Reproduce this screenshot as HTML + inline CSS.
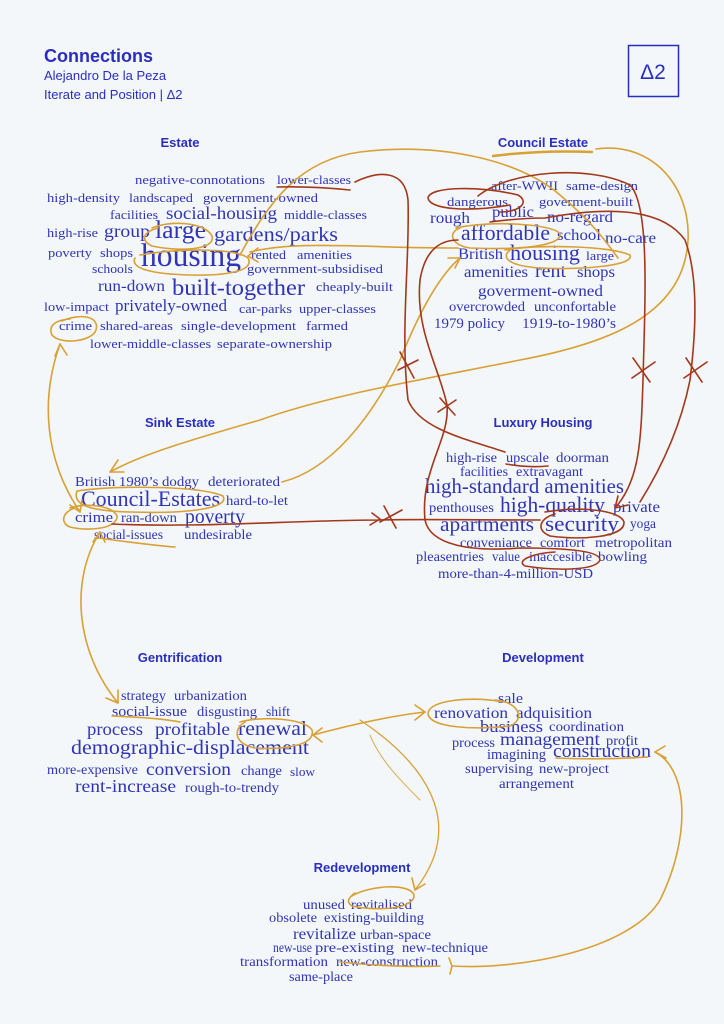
<!DOCTYPE html>
<html><head><meta charset="utf-8"><style>
html,body{margin:0;padding:0;background:#f3f7f9;}
svg{display:block}
.w{font-family:"Liberation Serif",serif;fill:#3034b5;}
.h{font-family:"Liberation Sans",sans-serif;font-weight:bold;fill:#2a2ec0;font-size:13px;text-anchor:middle}
.o{fill:none;stroke:#d9a035;stroke-width:1.6;stroke-linecap:round}
.b{fill:none;stroke:#a3381c;stroke-width:1.6;stroke-linecap:round}
</style></head><body>
<svg width="724" height="1024" viewBox="0 0 724 1024" xmlns="http://www.w3.org/2000/svg">
<rect width="724" height="1024" fill="#f3f7f9"/>
<g font-family="Liberation Sans,sans-serif" fill="#2a2ec0">
<text x="44" y="62" font-size="18" font-weight="bold">Connections</text>
<text x="44" y="80" font-size="13">Alejandro De la Peza</text>
<text x="44" y="99" font-size="13">Iterate and Position | Δ2</text>
<text x="653" y="79" font-size="21" text-anchor="middle">Δ2</text>
</g>
<rect x="628.5" y="45.5" width="50" height="51" fill="none" stroke="#2a2ec0" stroke-width="1.5"/>
<text class="h" x="180" y="147">Estate</text>
<text class="h" x="543" y="147">Council Estate</text>
<text class="h" x="180" y="427">Sink Estate</text>
<text class="h" x="543" y="427">Luxury Housing</text>
<text class="h" x="180" y="662">Gentrification</text>
<text class="h" x="543" y="662">Development</text>
<text class="h" x="362" y="872">Redevelopment</text>

<g class="w" lengthAdjust="spacingAndGlyphs">
<!-- Estate -->
<text x="135" y="184" font-size="13" textLength="130" lengthAdjust="spacingAndGlyphs">negative-connotations</text>
<text x="277" y="184" font-size="13" textLength="74" lengthAdjust="spacingAndGlyphs">lower-classes</text>
<text x="47" y="202" font-size="13" textLength="73" lengthAdjust="spacingAndGlyphs">high-density</text>
<text x="129" y="202" font-size="13" textLength="64" lengthAdjust="spacingAndGlyphs">landscaped</text>
<text x="203" y="202" font-size="13" textLength="115" lengthAdjust="spacingAndGlyphs">government-owned</text>
<text x="110" y="219" font-size="13" textLength="48" lengthAdjust="spacingAndGlyphs">facilities</text>
<text x="166" y="219" font-size="18" textLength="111" lengthAdjust="spacingAndGlyphs">social-housing</text>
<text x="284" y="219" font-size="13" textLength="83" lengthAdjust="spacingAndGlyphs">middle-classes</text>
<text x="47" y="237" font-size="13" textLength="51" lengthAdjust="spacingAndGlyphs">high-rise</text>
<text x="104" y="237" font-size="18" textLength="46" lengthAdjust="spacingAndGlyphs">group</text>
<text x="155" y="238" font-size="25" textLength="51" lengthAdjust="spacingAndGlyphs">large</text>
<text x="214" y="241" font-size="20" textLength="124" lengthAdjust="spacingAndGlyphs">gardens/parks</text>
<text x="48" y="257" font-size="13" textLength="44" lengthAdjust="spacingAndGlyphs">poverty</text>
<text x="100" y="257" font-size="13" textLength="33" lengthAdjust="spacingAndGlyphs">shops</text>
<text x="141" y="266" font-size="33" textLength="100" lengthAdjust="spacingAndGlyphs">housing</text>
<text x="251" y="259" font-size="13" textLength="35" lengthAdjust="spacingAndGlyphs">rented</text>
<text x="297" y="259" font-size="13" textLength="55" lengthAdjust="spacingAndGlyphs">amenities</text>
<text x="92" y="273" font-size="13" textLength="41" lengthAdjust="spacingAndGlyphs">schools</text>
<text x="247" y="273" font-size="13" textLength="136" lengthAdjust="spacingAndGlyphs">government-subsidised</text>
<text x="98" y="291" font-size="16" textLength="67" lengthAdjust="spacingAndGlyphs">run-down</text>
<text x="172" y="295" font-size="23" textLength="133" lengthAdjust="spacingAndGlyphs">built-together</text>
<text x="316" y="291" font-size="13" textLength="77" lengthAdjust="spacingAndGlyphs">cheaply-built</text>
<text x="44" y="311" font-size="13" textLength="65" lengthAdjust="spacingAndGlyphs">low-impact</text>
<text x="115" y="311" font-size="17" textLength="112" lengthAdjust="spacingAndGlyphs">privately-owned</text>
<text x="239" y="313" font-size="13" textLength="53" lengthAdjust="spacingAndGlyphs">car-parks</text>
<text x="299" y="313" font-size="13" textLength="77" lengthAdjust="spacingAndGlyphs">upper-classes</text>
<text x="59" y="330" font-size="13" textLength="33" lengthAdjust="spacingAndGlyphs">crime</text>
<text x="100" y="330" font-size="13" textLength="73" lengthAdjust="spacingAndGlyphs">shared-areas</text>
<text x="181" y="330" font-size="13" textLength="115" lengthAdjust="spacingAndGlyphs">single-development</text>
<text x="306" y="330" font-size="13" textLength="42" lengthAdjust="spacingAndGlyphs">farmed</text>
<text x="90" y="348" font-size="13" textLength="121" lengthAdjust="spacingAndGlyphs">lower-middle-classes</text>
<text x="217" y="348" font-size="13" textLength="115" lengthAdjust="spacingAndGlyphs">separate-ownership</text>
<!-- Council -->
<text x="491" y="190" font-size="13" textLength="67" lengthAdjust="spacingAndGlyphs">after-WWII</text>
<text x="566" y="190" font-size="13" textLength="72" lengthAdjust="spacingAndGlyphs">same-design</text>
<text x="447" y="206" font-size="13" textLength="61" lengthAdjust="spacingAndGlyphs">dangerous</text>
<text x="539" y="206" font-size="13" textLength="94" lengthAdjust="spacingAndGlyphs">goverment-built</text>
<text x="430" y="223" font-size="16" textLength="40" lengthAdjust="spacingAndGlyphs">rough</text>
<text x="492" y="217" font-size="16" textLength="42" lengthAdjust="spacingAndGlyphs">public</text>
<text x="547" y="222" font-size="16" textLength="66" lengthAdjust="spacingAndGlyphs">no-regard</text>
<text x="461" y="240" font-size="22" textLength="89" lengthAdjust="spacingAndGlyphs">affordable</text>
<text x="557" y="240" font-size="16" textLength="44" lengthAdjust="spacingAndGlyphs">school</text>
<text x="605" y="243" font-size="16" textLength="51" lengthAdjust="spacingAndGlyphs">no-care</text>
<text x="458" y="259" font-size="16" textLength="45" lengthAdjust="spacingAndGlyphs">British</text>
<text x="510" y="260" font-size="22" textLength="70" lengthAdjust="spacingAndGlyphs">housing</text>
<text x="586" y="260" font-size="13" textLength="28" lengthAdjust="spacingAndGlyphs">large</text>
<text x="464" y="277" font-size="16" textLength="64" lengthAdjust="spacingAndGlyphs">amenities</text>
<text x="535" y="277" font-size="19" textLength="31" lengthAdjust="spacingAndGlyphs">rent</text>
<text x="577" y="277" font-size="16" textLength="38" lengthAdjust="spacingAndGlyphs">shops</text>
<text x="478" y="296" font-size="16" textLength="125" lengthAdjust="spacingAndGlyphs">goverment-owned</text>
<text x="449" y="311" font-size="14" textLength="76" lengthAdjust="spacingAndGlyphs">overcrowded</text>
<text x="534" y="311" font-size="14" textLength="82" lengthAdjust="spacingAndGlyphs">unconfortable</text>
<text x="434" y="328" font-size="15" textLength="71" lengthAdjust="spacingAndGlyphs">1979 policy</text>
<text x="522" y="328" font-size="15" textLength="94" lengthAdjust="spacingAndGlyphs">1919-to-1980’s</text>
<!-- Sink -->
<text x="75" y="486" font-size="14" textLength="124" lengthAdjust="spacingAndGlyphs">British 1980’s dodgy</text>
<text x="208" y="486" font-size="14" textLength="72" lengthAdjust="spacingAndGlyphs">deteriorated</text>
<text x="81" y="506" font-size="22" textLength="139" lengthAdjust="spacingAndGlyphs">Council-Estates</text>
<text x="226" y="505" font-size="14" textLength="62" lengthAdjust="spacingAndGlyphs">hard-to-let</text>
<text x="75" y="522" font-size="15" textLength="38" lengthAdjust="spacingAndGlyphs">crime</text>
<text x="121" y="522" font-size="14" textLength="56" lengthAdjust="spacingAndGlyphs">ran-down</text>
<text x="185" y="523" font-size="20" textLength="60" lengthAdjust="spacingAndGlyphs">poverty</text>
<text x="94" y="539" font-size="14" textLength="69" lengthAdjust="spacingAndGlyphs">social-issues</text>
<text x="184" y="539" font-size="14" textLength="68" lengthAdjust="spacingAndGlyphs">undesirable</text>
<!-- Luxury -->
<text x="446" y="462" font-size="14" textLength="51" lengthAdjust="spacingAndGlyphs">high-rise</text>
<text x="506" y="462" font-size="14" textLength="43" lengthAdjust="spacingAndGlyphs">upscale</text>
<text x="556" y="462" font-size="14" textLength="53" lengthAdjust="spacingAndGlyphs">doorman</text>
<text x="460" y="476" font-size="14" textLength="48" lengthAdjust="spacingAndGlyphs">facilities</text>
<text x="516" y="476" font-size="14" textLength="67" lengthAdjust="spacingAndGlyphs">extravagant</text>
<text x="425" y="493" font-size="21" textLength="199" lengthAdjust="spacingAndGlyphs">high-standard amenities</text>
<text x="429" y="512" font-size="14" textLength="65" lengthAdjust="spacingAndGlyphs">penthouses</text>
<text x="500" y="512" font-size="22" textLength="105" lengthAdjust="spacingAndGlyphs">high-quality</text>
<text x="613" y="512" font-size="16" textLength="47" lengthAdjust="spacingAndGlyphs">private</text>
<text x="440" y="531" font-size="20" textLength="94" lengthAdjust="spacingAndGlyphs">apartments</text>
<text x="545" y="531" font-size="22" textLength="74" lengthAdjust="spacingAndGlyphs">security</text>
<text x="630" y="528" font-size="14" textLength="26" lengthAdjust="spacingAndGlyphs">yoga</text>
<text x="460" y="547" font-size="14" textLength="72" lengthAdjust="spacingAndGlyphs">conveniance</text>
<text x="540" y="547" font-size="14" textLength="45" lengthAdjust="spacingAndGlyphs">comfort</text>
<text x="595" y="547" font-size="14" textLength="77" lengthAdjust="spacingAndGlyphs">metropolitan</text>
<text x="416" y="561" font-size="14" textLength="68" lengthAdjust="spacingAndGlyphs">pleasentries</text>
<text x="492" y="561" font-size="14" textLength="28" lengthAdjust="spacingAndGlyphs">value</text>
<text x="529" y="561" font-size="14" textLength="63" lengthAdjust="spacingAndGlyphs">inaccesible</text>
<text x="598" y="561" font-size="14" textLength="49" lengthAdjust="spacingAndGlyphs">bowling</text>
<text x="438" y="578" font-size="14" textLength="155" lengthAdjust="spacingAndGlyphs">more-than-4-million-USD</text>
<!-- Gentrification -->
<text x="121" y="700" font-size="14" textLength="45" lengthAdjust="spacingAndGlyphs">strategy</text>
<text x="174" y="700" font-size="14" textLength="73" lengthAdjust="spacingAndGlyphs">urbanization</text>
<text x="112" y="716" font-size="15" textLength="75" lengthAdjust="spacingAndGlyphs">social-issue</text>
<text x="197" y="716" font-size="14" textLength="60" lengthAdjust="spacingAndGlyphs">disgusting</text>
<text x="266" y="716" font-size="14" textLength="24" lengthAdjust="spacingAndGlyphs">shift</text>
<text x="87" y="735" font-size="18" textLength="56" lengthAdjust="spacingAndGlyphs">process</text>
<text x="155" y="735" font-size="18" textLength="75" lengthAdjust="spacingAndGlyphs">profitable</text>
<text x="238" y="735" font-size="20" textLength="69" lengthAdjust="spacingAndGlyphs">renewal</text>
<text x="71" y="754" font-size="20" textLength="238" lengthAdjust="spacingAndGlyphs">demographic-displacement</text>
<text x="47" y="774" font-size="14" textLength="91" lengthAdjust="spacingAndGlyphs">more-expensive</text>
<text x="146" y="775" font-size="18" textLength="85" lengthAdjust="spacingAndGlyphs">conversion</text>
<text x="241" y="775" font-size="14" textLength="41" lengthAdjust="spacingAndGlyphs">change</text>
<text x="290" y="776" font-size="13" textLength="25" lengthAdjust="spacingAndGlyphs">slow</text>
<text x="75" y="792" font-size="18" textLength="101" lengthAdjust="spacingAndGlyphs">rent-increase</text>
<text x="185" y="792" font-size="14" textLength="94" lengthAdjust="spacingAndGlyphs">rough-to-trendy</text>
<!-- Development -->
<text x="498" y="703" font-size="15" textLength="25" lengthAdjust="spacingAndGlyphs">sale</text>
<text x="434" y="718" font-size="16" textLength="74" lengthAdjust="spacingAndGlyphs">renovation</text>
<text x="516" y="718" font-size="16" textLength="76" lengthAdjust="spacingAndGlyphs">adquisition</text>
<text x="480" y="732" font-size="17" textLength="63" lengthAdjust="spacingAndGlyphs">business</text>
<text x="549" y="731" font-size="14" textLength="75" lengthAdjust="spacingAndGlyphs">coordination</text>
<text x="452" y="747" font-size="14" textLength="43" lengthAdjust="spacingAndGlyphs">process</text>
<text x="500" y="745" font-size="18" textLength="100" lengthAdjust="spacingAndGlyphs">management</text>
<text x="606" y="745" font-size="14" textLength="32" lengthAdjust="spacingAndGlyphs">profit</text>
<text x="487" y="759" font-size="15" textLength="59" lengthAdjust="spacingAndGlyphs">imagining</text>
<text x="553" y="757" font-size="19" textLength="98" lengthAdjust="spacingAndGlyphs">construction</text>
<text x="465" y="773" font-size="14" textLength="68" lengthAdjust="spacingAndGlyphs">supervising</text>
<text x="539" y="773" font-size="14" textLength="70" lengthAdjust="spacingAndGlyphs">new-project</text>
<text x="499" y="788" font-size="14" textLength="75" lengthAdjust="spacingAndGlyphs">arrangement</text>
<!-- Redevelopment -->
<text x="303" y="909" font-size="14" textLength="42" lengthAdjust="spacingAndGlyphs">unused</text>
<text x="351" y="909" font-size="14" textLength="61" lengthAdjust="spacingAndGlyphs">revitalised</text>
<text x="269" y="922" font-size="14" textLength="48" lengthAdjust="spacingAndGlyphs">obsolete</text>
<text x="324" y="922" font-size="14" textLength="100" lengthAdjust="spacingAndGlyphs">existing-building</text>
<text x="293" y="939" font-size="16" textLength="63" lengthAdjust="spacingAndGlyphs">revitalize</text>
<text x="360" y="939" font-size="14" textLength="71" lengthAdjust="spacingAndGlyphs">urban-space</text>
<text x="273" y="952" font-size="14" textLength="39" lengthAdjust="spacingAndGlyphs">new-use</text>
<text x="315" y="952" font-size="14" textLength="79" lengthAdjust="spacingAndGlyphs">pre-existing</text>
<text x="402" y="952" font-size="14" textLength="86" lengthAdjust="spacingAndGlyphs">new-technique</text>
<text x="240" y="966" font-size="14" textLength="88" lengthAdjust="spacingAndGlyphs">transformation</text>
<text x="336" y="966" font-size="14" textLength="102" lengthAdjust="spacingAndGlyphs">new-construction</text>
<text x="289" y="981" font-size="14" textLength="64" lengthAdjust="spacingAndGlyphs">same-place</text>
</g>

<!-- orange strokes -->
<g class="o">
<path d="M493 156 Q540 150 592 152" stroke-width="2.5"/>
<path d="M596 149 C660 140 700 200 685 260 C670 320 600 345 520 360 C420 380 330 395 260 420 C190 440 140 455 110 472"/>
<path d="M110 472 L118 460 M110 472 L124 472"/>
<path d="M240 255 C270 200 300 160 360 152 C440 142 520 160 560 195 C590 220 605 240 618 258"/>
<path d="M250 252 C300 240 360 248 458 248"/>
<path d="M248 256 L258 248 M248 256 L258 262"/>
<path d="M282 482 C330 470 370 420 400 360 C420 310 440 275 460 258"/>
<path d="M460 258 L448 258 M460 258 L455 268"/>
<path d="M152 228 C170 220 205 222 212 236 C216 250 180 252 152 246 C140 240 143 232 158 228"/>
<path d="M140 255 C180 248 235 248 248 258 C255 270 230 276 190 275 C150 274 130 268 135 258"/>
<path d="M62 321 C80 313 100 316 96 330 C92 342 60 345 52 335 C48 326 55 320 70 319"/>
<path d="M60 344 C40 400 45 460 80 512"/>
<path d="M60 344 L55 356 M60 344 L67 355 M80 512 L70 505 M80 512 L82 500"/>
<path d="M77 491 C120 485 200 486 223 496 C230 508 190 514 130 512 C90 511 72 505 77 491"/>
<path d="M70 508 C85 503 112 505 117 516 C118 528 90 532 70 527 C60 523 62 512 75 508"/>
<path d="M100 532 C70 580 75 650 118 703"/>
<path d="M100 532 L93 542 M100 532 L105 542 M118 703 L106 698 M118 703 L118 690"/>
<path d="M98 538 Q150 545 175 547"/>
<path d="M456 228 C490 220 555 224 560 234 C562 246 520 250 470 248 C450 245 448 232 460 228"/>
<path d="M505 250 C540 244 610 246 630 255 C635 266 580 270 540 268 C510 266 500 258 510 250"/>
<path d="M240 722 C260 716 305 718 312 730 C316 745 285 750 255 748 C235 744 232 730 245 722"/>
<path d="M313 735 C350 725 390 716 425 712"/>
<path d="M313 735 L322 728 M313 735 L322 742 M425 712 L415 705 M425 712 L415 720"/>
<path d="M505 702 C470 696 430 700 428 713 C428 728 475 730 510 726 C525 720 520 702 495 700"/>
<path d="M112 716 Q160 718 180 722"/>
<path d="M360 720 C420 760 470 820 415 890" stroke-width="1.3"/>
<path d="M415 890 L412 878 M415 890 L425 884"/>
<path d="M370 735 C380 760 400 780 420 800" stroke-width="0.9"/>
<path d="M352 896 C370 885 410 883 414 895 C415 908 380 912 352 906 C346 902 348 898 355 893"/>
<path d="M655 752 C690 770 690 840 660 900 C630 950 520 970 452 966"/>
<path d="M655 752 L665 746 M655 752 L666 758 M452 966 L449 958 M452 966 L450 974"/>
<path d="M556 758 Q600 760 648 757"/>
<path d="M340 962 Q400 968 440 966"/>
</g>

<!-- brown strokes -->
<g class="b">
<path d="M277 187 Q310 186 350 190"/>
<path d="M355 182 C380 170 405 170 408 200 C410 260 400 330 408 400 C420 430 470 440 505 452"/>
<path d="M506 464 Q528 468 548 466"/>
<path d="M510 205 C470 212 430 210 428 198 C430 186 480 186 518 195 C530 202 520 212 500 212"/>
<path d="M478 196 C510 170 590 165 630 185 C650 205 645 300 643 380 C641 440 640 480 615 508"/>
<path d="M615 508 L618 496 M615 508 L628 505"/>
<path d="M490 222 Q520 218 545 218 C600 208 660 205 685 240 C700 280 695 340 690 380 C680 430 660 470 640 502"/>
<path d="M458 240 C440 240 425 250 420 280 C415 330 440 370 447 405 C450 440 420 470 425 520 C430 545 470 552 520 548 C560 548 600 550 600 560 C595 572 550 570 525 566 C515 560 535 553 555 552"/>
<path d="M545 512 C580 506 620 510 624 522 C625 538 580 540 550 536 C535 530 540 518 555 514"/>
<path d="M112 524 C200 528 300 520 380 520 C420 519 460 520 540 520"/>
<path d="M380 519 L372 513 M380 519 L370 525"/>
<path d="M400 352 L414 378 M398 370 L418 360"/>
<path d="M440 398 L455 415 M438 412 L456 400"/>
<path d="M633 358 L650 382 M632 378 L655 362"/>
<path d="M686 358 L702 382 M684 378 L707 362"/>
<path d="M384 506 L396 528 M380 522 L402 510"/>
</g>
</svg>
</body></html>
